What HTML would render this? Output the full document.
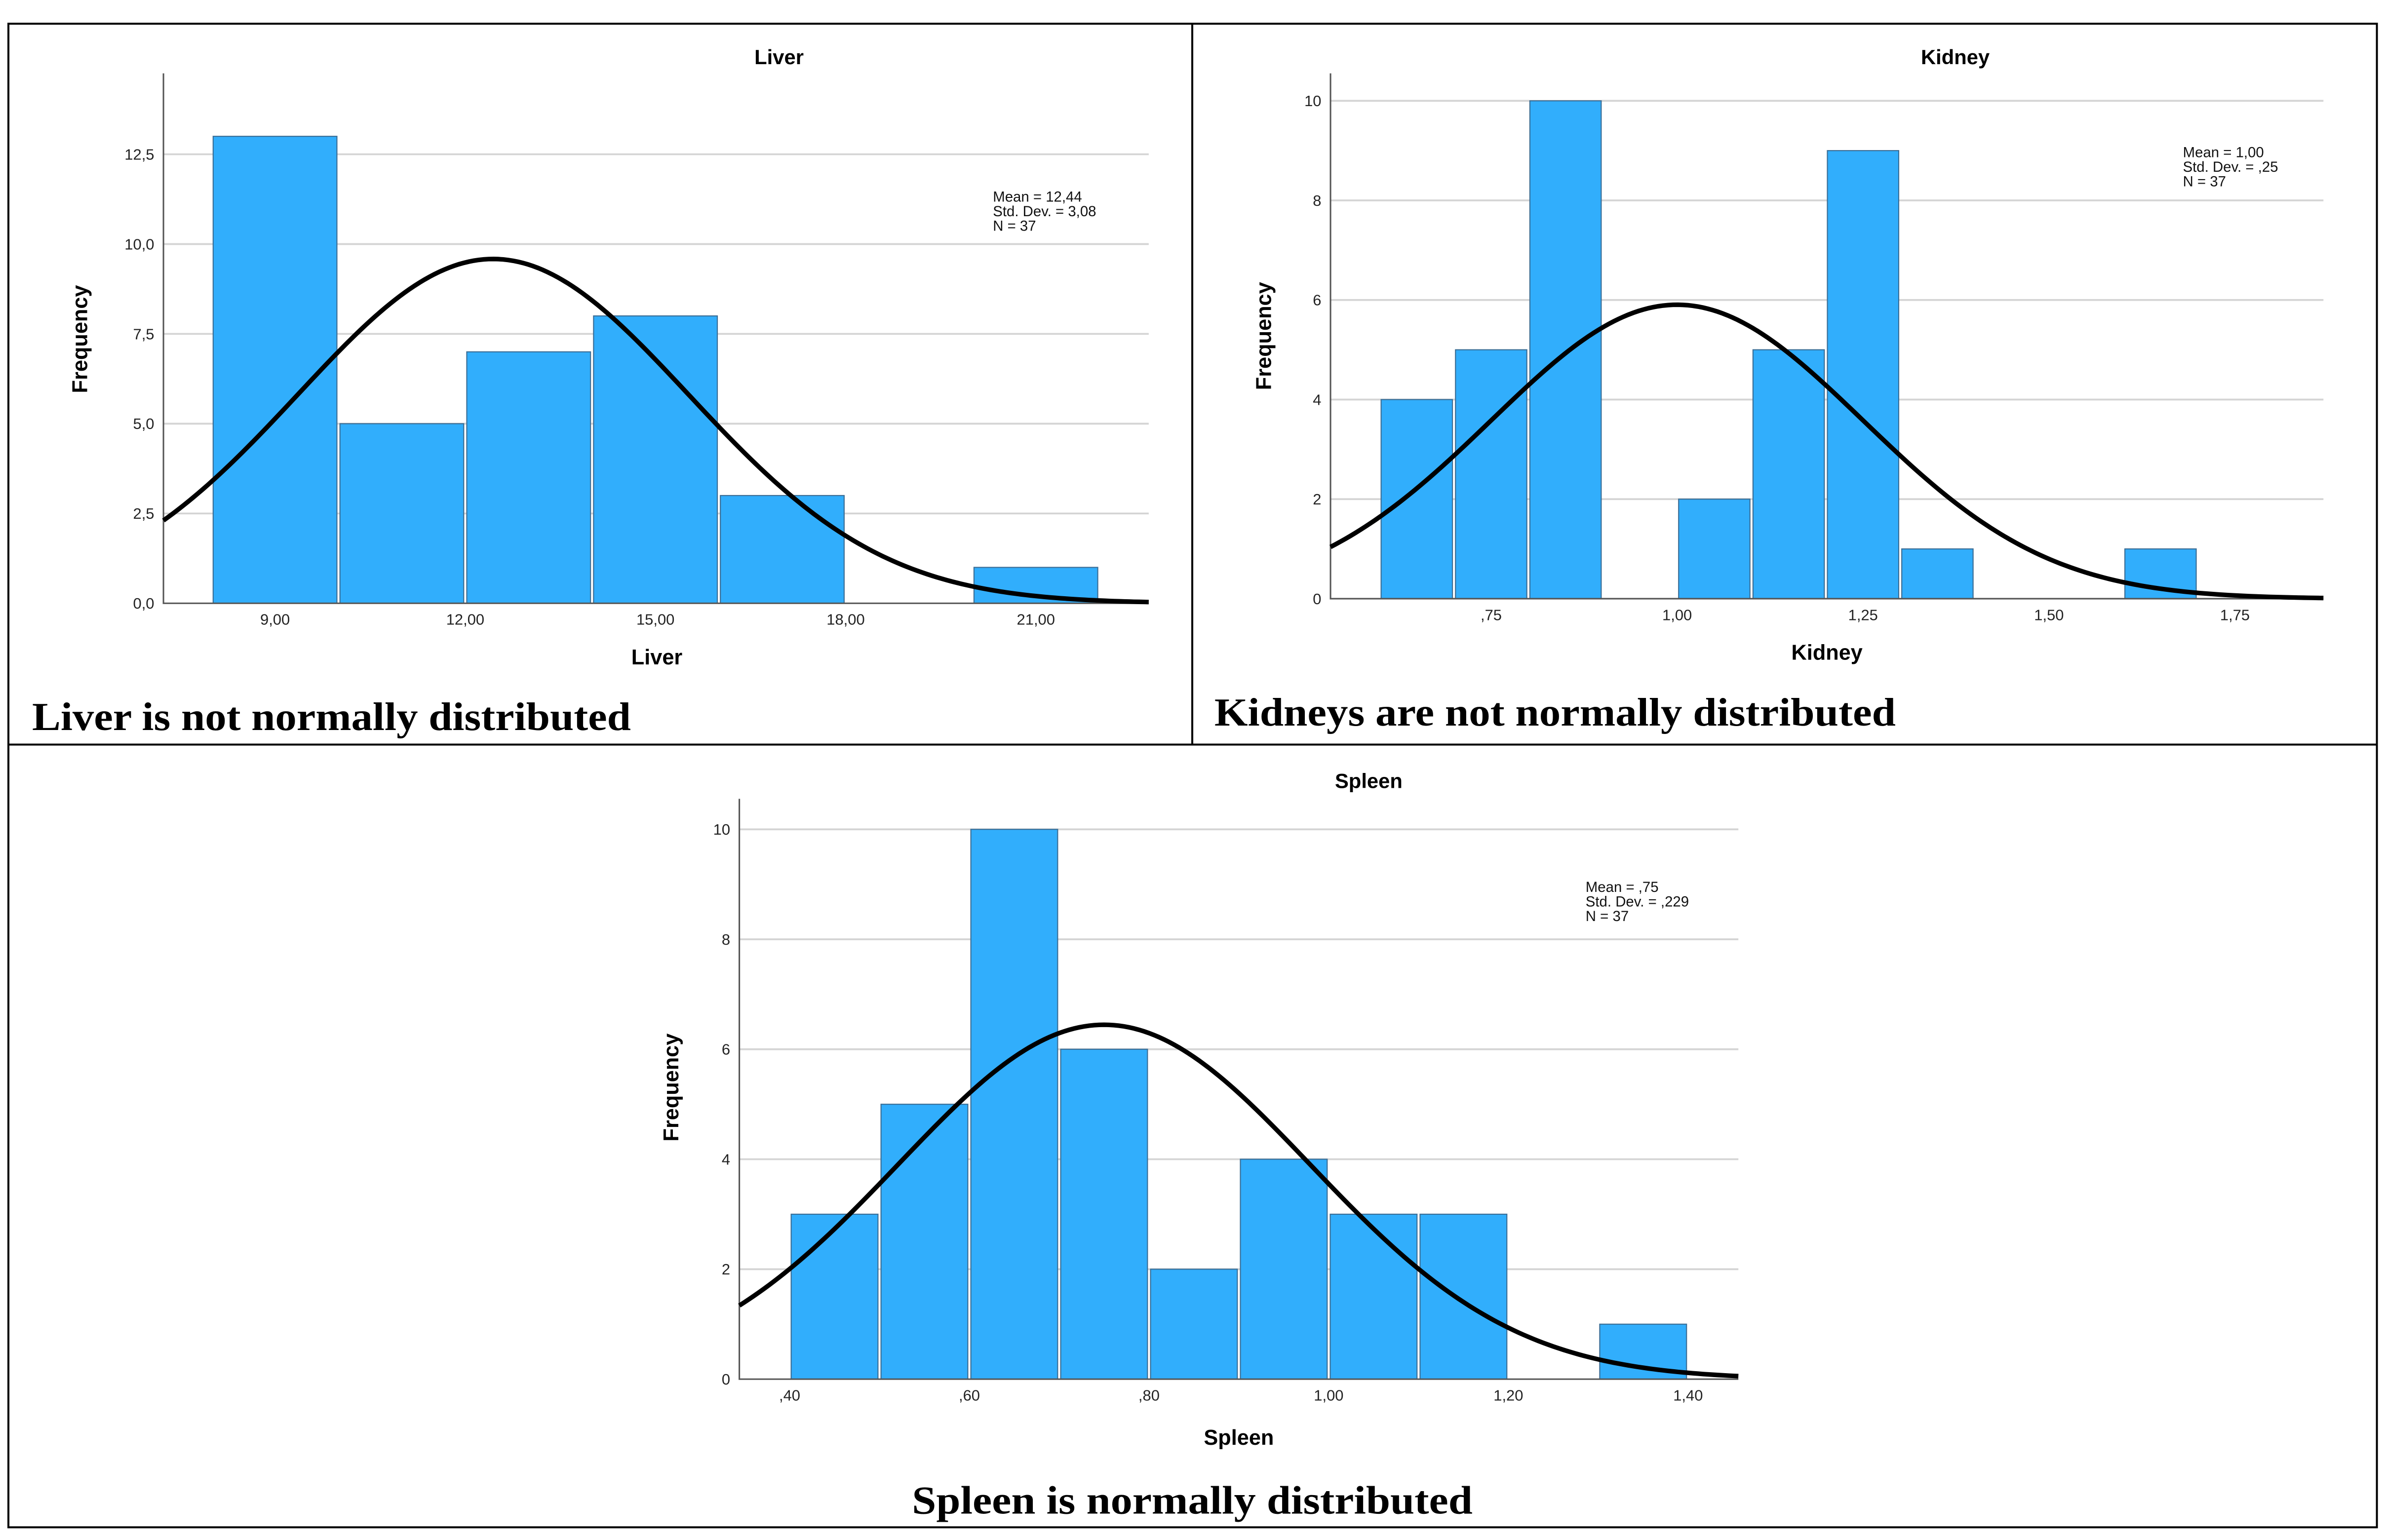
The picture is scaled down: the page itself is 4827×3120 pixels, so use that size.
<!DOCTYPE html>
<html><head><meta charset="utf-8">
<style>
html,body{margin:0;padding:0;background:#fff;}
svg{display:block;}
text{font-family:"Liberation Sans",Arial,sans-serif;}
.cap{font-family:"Liberation Serif",serif;font-weight:bold;}
</style></head>
<body>
<svg id="fig" width="4827" height="3120" viewBox="0 0 1560 1008.3" xmlns="http://www.w3.org/2000/svg">
<rect x="0" y="0" width="1560" height="1008.3" fill="#fff"/>
<g fill="none" stroke="#000" stroke-width="1.3">
<rect x="5.5" y="15.5" width="1550.5" height="984.5"/>
<line x1="780.5" y1="15.5" x2="780.5" y2="487.5"/>
<line x1="5.5" y1="487.5" x2="1556" y2="487.5"/>
</g>
<text class="cap" x="21" y="478" font-size="26" textLength="392" lengthAdjust="spacingAndGlyphs">Liver is not normally distributed</text>
<text class="cap" x="795" y="475" font-size="26" textLength="446" lengthAdjust="spacingAndGlyphs">Kidneys are not normally distributed</text>
<text class="cap" x="597" y="991" font-size="26" textLength="367" lengthAdjust="spacingAndGlyphs">Spleen is normally distributed</text>
</svg>
<script>
// Liver data
const liverBinStarts = [8, 10, 12, 14, 16, 18, 20];
const liverCounts = [13, 5, 7, 8, 3, 0, 1];
const liverYTicks = [0, 2.5, 5, 7.5, 10, 12.5];
const liverYTickLabels = ["0,0", "2,5", "5,0", "7,5", "10,0", "12,5"];
const liverXTicks = [9, 12, 15, 18, 21];
const liverXTickLabels = ["9,00", "12,00", "15,00", "18,00", "21,00"];
const liverStats = ["Mean = 12,44", "Std. Dev. = 3,08", "N = 37"];
// Kidney data
const kidneyBinStarts = [0.6, 0.7, 0.8, 0.9, 1.0, 1.1, 1.2, 1.3, 1.4, 1.5, 1.6];
const kidneyCounts = [4, 5, 10, 0, 2, 5, 9, 1, 0, 0, 1];
const kidneyYTicks = [0, 2, 4, 6, 8, 10];
const kidneyYTickLabels = ["0", "2", "4", "6", "8", "10"];
const kidneyXTicks = [0.75, 1.0, 1.25, 1.5, 1.75];
const kidneyXTickLabels = [",75", "1,00", "1,25", "1,50", "1,75"];
const kidneyStats = ["Mean = 1,00", "Std. Dev. = ,25", "N = 37"];
// Spleen data
const spleenBinStarts = [0.4, 0.5, 0.6, 0.7, 0.8, 0.9, 1.0, 1.1, 1.2, 1.3];
const spleenCounts = [3, 5, 10, 6, 2, 4, 3, 3, 0, 1];
const spleenYTicks = [0, 2, 4, 6, 8, 10];
const spleenYTickLabels = ["0", "2", "4", "6", "8", "10"];
const spleenXTicks = [0.4, 0.6, 0.8, 1.0, 1.2, 1.4];
const spleenXTickLabels = [",40", ",60", ",80", "1,00", "1,20", "1,40"];
const spleenStats = ["Mean = ,75", "Std. Dev. = ,229", "N = 37"];
const liverNormal = [12.44, 3.08, 37];
const kidneyNormal = [1.00, 0.25, 37];
const spleenNormal = [0.75, 0.229, 37];

const NS = "http://www.w3.org/2000/svg";
const fig = document.getElementById('fig');
function mk(tag, attrs, parent) {
  const e = document.createElementNS(NS, tag);
  for (const k in attrs) e.setAttribute(k, attrs[k]);
  parent.appendChild(e);
  return e;
}
function chart(cfg) {
  const g = mk('g', {}, fig);
  
  
  const X = v => cfg.px0 + (v - cfg.x0) / (cfg.x1 - cfg.x0) * (cfg.px1 - cfg.px0);
  const Y = v => cfg.py0 - v / cfg.yMaxVal * (cfg.py0 - cfg.pyMax);
  // gridlines
  cfg.yTicks.forEach((t, i) => {
    if (t > 0) {
      const l = mk('line', {x1: cfg.px0, x2: cfg.px1, y1: Y(t), y2: Y(t), stroke: '#d4d4d4', 'stroke-width': 1.2}, g);
      
      
    }
    const tx = mk('text', {x: cfg.px0 - 6, y: Y(t) + 3.5, 'font-size': 10, 'text-anchor': 'end', fill: '#222'}, g);
    tx.textContent = cfg.yLabels[i];
    
    
  });
  // bars
  const bw = cfg.binW;
  cfg.bins.forEach((b, i) => {
    const c = cfg.counts[i];
    if (c <= 0) return;
    const x1 = X(b), x2 = X(b + bw);
    const r = mk('rect', {x: x1 + 1, y: Y(c), width: x2 - x1 - 2, height: Y(0) - Y(c), fill: '#31aefc', stroke: '#3a6d95', 'stroke-width': 0.7}, g);
    
    
  });
  // axes
  const ax = mk('path', {d: `M${cfg.px0} ${cfg.pyTop} V${cfg.py0} H${cfg.px1}`, fill: 'none', stroke: '#555', 'stroke-width': 1}, g);
  
  
  cfg.xTicks.forEach((t, i) => {
    const tx = mk('text', {x: X(t), y: cfg.py0 + 14, 'font-size': 10, 'text-anchor': 'middle', fill: '#222'}, g);
    tx.textContent = cfg.xLabels[i];
    
    
  });
  // normal curve
  const [m, s, n] = cfg.normal;
  let d = '';
  for (let k = 0; k <= 200; k++) {
    const v = cfg.x0 + (cfg.x1 - cfg.x0) * k / 200;
    const f = n * bw / (s * Math.sqrt(2 * Math.PI)) * Math.exp(-0.5 * ((v - m) / s) ** 2);
    d += (k ? 'L' : 'M') + X(v).toFixed(2) + ' ' + Y(f).toFixed(2);
  }
  const cv = mk('path', {d: d, fill: 'none', stroke: '#000', 'stroke-width': 3}, g);
  
  
  // titles
  const tt = mk('text', {x: cfg.titleX, y: cfg.titleY, 'font-size': 13.5, 'font-weight': 'bold', 'text-anchor': 'middle'}, g);
  tt.textContent = cfg.title;
  
  
  const xt = mk('text', {x: cfg.xtX, y: cfg.xtY, 'font-size': 14, 'font-weight': 'bold', 'text-anchor': 'middle'}, g);
  xt.textContent = cfg.title;
  
  
  const yt = mk('text', {x: 0, y: 0, 'font-size': 14, 'font-weight': 'bold', 'text-anchor': 'middle', transform: `translate(${cfg.ytX},${cfg.ytY}) rotate(-90)`}, g);
  yt.textContent = 'Frequency';
  
  
  cfg.stats.forEach((s2, i) => {
    const st = mk('text', {x: cfg.statX, y: cfg.statY + i * 9.5, 'font-size': 9.5, fill: '#111'}, g);
    st.textContent = s2;
    
    
  });
}
chart({name: 'liver', title: 'Liver', bins: liverBinStarts, counts: liverCounts, binW: 2,
  yTicks: liverYTicks, yLabels: liverYTickLabels, xTicks: liverXTicks, xLabels: liverXTickLabels,
  stats: liverStats, normal: liverNormal,
  x0: 7.24, x1: 22.78, px0: 107, px1: 752, py0: 395, pyMax: 101, yMaxVal: 12.5, pyTop: 48,
  titleX: 510, titleY: 42, xtX: 430, xtY: 435, ytX: 57, ytY: 222, statX: 650, statY: 132});
chart({name: 'kidney', title: 'Kidney', bins: kidneyBinStarts, counts: kidneyCounts, binW: 0.1,
  yTicks: kidneyYTicks, yLabels: kidneyYTickLabels, xTicks: kidneyXTicks, xLabels: kidneyXTickLabels,
  stats: kidneyStats, normal: kidneyNormal,
  x0: 0.534, x1: 1.869, px0: 871, px1: 1521, py0: 392, pyMax: 66, yMaxVal: 10, pyTop: 48,
  titleX: 1280, titleY: 42, xtX: 1196, xtY: 432, ytX: 832, ytY: 220, statX: 1429, statY: 103});
chart({name: 'spleen', title: 'Spleen', bins: spleenBinStarts, counts: spleenCounts, binW: 0.1,
  yTicks: spleenYTicks, yLabels: spleenYTickLabels, xTicks: spleenXTicks, xLabels: spleenXTickLabels,
  stats: spleenStats, normal: spleenNormal,
  x0: 0.344, x1: 1.456, px0: 484, px1: 1138, py0: 903, pyMax: 543, yMaxVal: 10, pyTop: 523,
  titleX: 896, titleY: 516, xtX: 811, xtY: 946, ytX: 444, ytY: 712, statX: 1038, statY: 584});
</script>
</body></html>
